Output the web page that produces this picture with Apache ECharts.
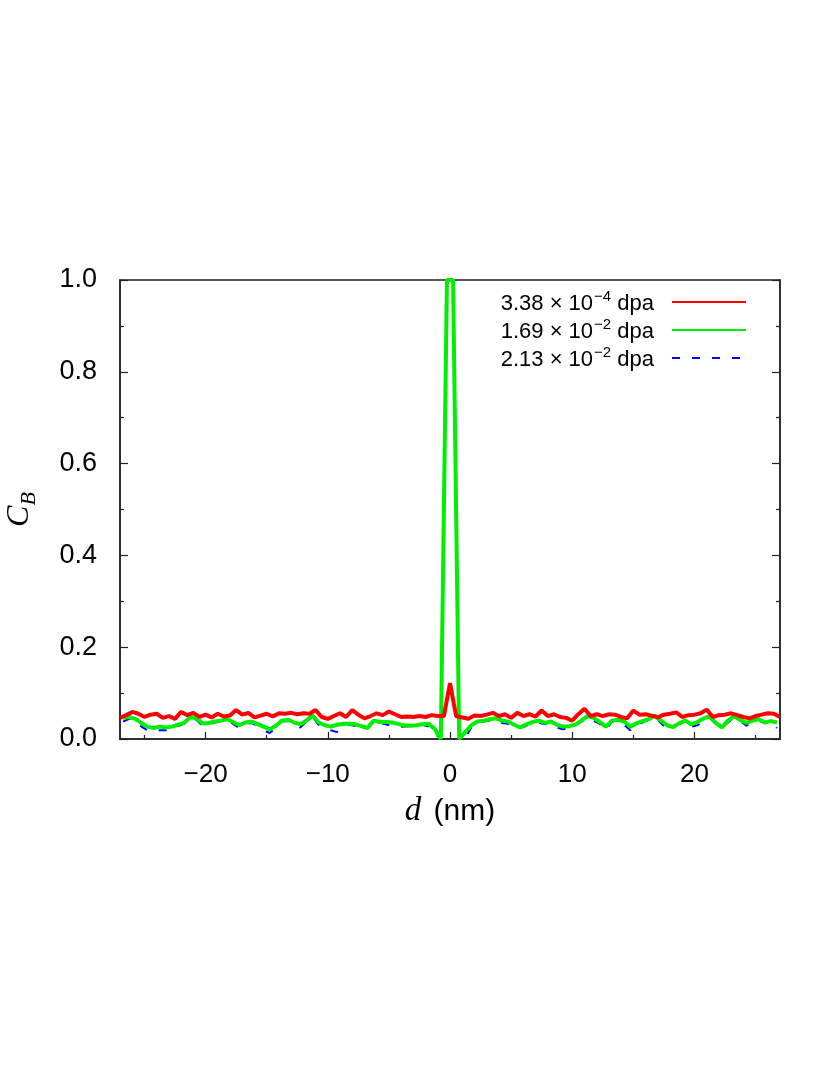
<!DOCTYPE html>
<html>
<head>
<meta charset="utf-8">
<script src="https://cdn.jsdelivr.net/npm/echarts@6/dist/echarts.min.js"></script>
<style>
  html, body { margin: 0; padding: 0; background: #fff; }
  #chart { width: 830px; height: 1075px; }
</style>
</head>
<body>
<div id="chart"></div>
<script>
// bin positions (nm)
const posRed = [-27,-26.5,-26,-25.5,-25,-24.5,-24,-23.5,-23,-22.5,-22,-21.5,-21,-20.5,-20,-19.5,-19,-18.5,-18,-17.5,
  -17,-16.5,-16,-15.5,-15,-14.5,-14,-13.5,-13,-12.5,-12,-11.5,-11,-10.5,-10,-9.5,-9,-8.5,-8,-7.5,
  -7,-6.5,-6,-5.5,-5,-4.5,-4,-3.5,-3,-2.5,-2,-1.5,-1,-0.5,0,0.5,1,1.5,2,2.5,
  3,3.5,4,4.5,5,5.5,6,6.5,7,7.5,8,8.5,9,9.5,10,10.5,11,11.5,12,12.5,
  13,13.5,14,14.5,15,15.5,16,16.5,17,17.5,18,18.5,19,19.5,20,20.5,21,21.5,22,22.5,
  23,23.5,24,24.5,25,25.5,26,26.5,27];
const posGB = [-26.75,-26.25,-25.75,-25.25,-24.75,-24.25,-23.75,-23.25,-22.75,-22.25,-21.75,-21.25,-20.75,-20.25,-19.75,-19.25,-18.75,-18.25,-17.75,-17.25,
  -16.75,-16.25,-15.75,-15.25,-14.75,-14.25,-13.75,-13.25,-12.75,-12.25,-11.75,-11.25,-10.75,-10.25,-9.75,-9.25,-8.75,-8.25,-7.75,-7.25,
  -6.75,-6.25,-5.75,-5.25,-4.75,-4.25,-3.75,-3.25,-2.75,-2.25,-1.75,-1.25,-0.75,-0.25,0.25,0.75,1.25,1.75,2.25,2.75,
  3.25,3.75,4.25,4.75,5.25,5.75,6.25,6.75,7.25,7.75,8.25,8.75,9.25,9.75,10.25,10.75,11.25,11.75,12.25,12.75,
  13.25,13.75,14.25,14.75,15.25,15.75,16.25,16.75,17.25,17.75,18.25,18.75,19.25,19.75,20.25,20.75,21.25,21.75,22.25,22.75,
  23.25,23.75,24.25,24.75,25.25,25.75,26.25,26.75];

// C_B values
const cbLow = [0.046,0.052,0.059,0.055,0.048,0.053,0.055,0.046,0.050,0.044,0.059,0.052,0.057,0.048,0.053,0.047,0.055,0.049,0.051,0.063,
  0.053,0.057,0.047,0.051,0.055,0.049,0.056,0.055,0.057,0.054,0.056,0.055,0.063,0.048,0.044,0.050,0.056,0.048,0.063,0.053,
  0.045,0.050,0.056,0.052,0.060,0.054,0.048,0.049,0.048,0.050,0.048,0.052,0.050,0.050,0.122,0.050,0.047,0.044,0.051,0.050,
  0.053,0.057,0.050,0.054,0.046,0.057,0.050,0.054,0.049,0.062,0.050,0.054,0.048,0.046,0.040,0.054,0.066,0.050,0.054,0.050,
  0.054,0.053,0.048,0.045,0.062,0.053,0.054,0.051,0.047,0.053,0.055,0.058,0.048,0.052,0.053,0.056,0.064,0.048,0.052,0.053,
  0.056,0.052,0.048,0.045,0.050,0.053,0.056,0.055,0.048];
const cbMid = [0.046,0.048,0.044,0.035,0.027,0.024,0.027,0.025,0.027,0.031,0.035,0.048,0.045,0.034,0.035,0.038,0.040,0.043,0.037,0.030,
  0.036,0.038,0.033,0.027,0.021,0.029,0.040,0.042,0.036,0.032,0.040,0.051,0.036,0.030,0.027,0.031,0.033,0.033,0.032,0.028,
  0.024,0.040,0.037,0.037,0.036,0.033,0.030,0.029,0.030,0.032,0.033,0.022,0.0,1.0,1.0,0.0,0.015,0.030,0.038,0.040,
  0.043,0.045,0.040,0.038,0.031,0.025,0.032,0.037,0.040,0.035,0.038,0.031,0.027,0.028,0.031,0.040,0.050,0.046,0.037,0.027,
  0.040,0.042,0.038,0.027,0.034,0.039,0.043,0.051,0.040,0.030,0.026,0.034,0.040,0.032,0.037,0.045,0.049,0.035,0.025,0.040,
  0.050,0.041,0.035,0.040,0.043,0.036,0.039,0.036];
const cbHigh = [0.038,0.044,0.040,0.027,0.019,0.017,0.019,0.019,0.023,0.028,0.033,0.045,0.042,0.028,0.031,0.036,0.038,0.040,0.033,0.024,
  0.034,0.035,0.028,0.019,0.013,0.024,0.038,0.039,0.032,0.025,0.038,0.048,0.031,0.024,0.019,0.015,0.027,0.031,0.028,0.021,
  0.024,0.042,0.035,0.032,0.028,0.026,0.027,0.028,0.029,0.031,0.027,0.012,0.0,1.0,1.0,0.0,0.003,0.025,0.037,0.038,
  0.040,0.041,0.035,0.033,0.027,0.024,0.029,0.034,0.036,0.032,0.034,0.025,0.021,0.024,0.031,0.038,0.046,0.040,0.033,0.019,
  0.038,0.038,0.031,0.019,0.029,0.036,0.042,0.048,0.035,0.022,0.025,0.033,0.036,0.027,0.030,0.041,0.046,0.033,0.025,0.036,
  0.046,0.039,0.029,0.038,0.040,0.035,0.038,0.024];

const xMajor = [-20, -10, 0, 10, 20];
const xMinor = [-25, -15, -5, 5, 15, 25];

const seriesNames = ['3.38e-4', '1.69e-2', '2.13e-2'];
const legendRich = {
  '3.38e-4': '{t|3.38 × 10}{s|−4}{t| dpa}',
  '1.69e-2': '{t|1.69 × 10}{s|−2}{t| dpa}',
  '2.13e-2': '{t|2.13 × 10}{s|−2}{t| dpa}'
};

function zip(xs, ys) {
  return xs.map((x, i) => [x, ys[i]]);
}

const sans = 'Liberation Sans, Arial, Helvetica, sans-serif';
const serif = 'Liberation Serif, Times New Roman, serif';

const chart = echarts.init(document.getElementById('chart'));

const yCommon = {
  type: 'value',
  min: 0,
  max: 1,
  interval: 0.2,
  splitLine: { show: false },
  axisLine: { show: true, onZero: false, lineStyle: { color: '#222', width: 1.5 } },
  axisTick: { show: true, inside: true, length: 8, lineStyle: { color: '#222', width: 1.2 } },
  minorTick: { show: true, splitNumber: 2, length: 4, lineStyle: { color: '#222', width: 1.2 } },
  minorSplitLine: { show: false }
};

const option = {
  animation: false,
  backgroundColor: '#fff',
  grid: {
    left: 120, right: 50, top: 280, bottom: 336,
    outerBoundsMode: 'none',
    containLabel: false,
    show: true, borderColor: '#222', borderWidth: 1.5, backgroundColor: 'transparent'
  },
  legend: {
    orient: 'vertical',
    right: 78,
    top: 284,
    align: 'right',
    itemWidth: 74,
    itemHeight: 2,
    itemGap: 2,
    data: seriesNames,
    formatter: name => legendRich[name],
    itemStyle: { opacity: 0 },
    textStyle: {
      color: '#000',
      fontFamily: sans,
      padding: [0, 13, 0, 0],
      rich: {
        t: { fontSize: 22, fontFamily: sans, color: '#000', lineHeight: 26, verticalAlign: 'bottom' },
        s: { fontSize: 15, fontFamily: sans, color: '#000', lineHeight: 26, verticalAlign: 'top', padding: [0, 0, 0, 1] }
      }
    }
  },
  xAxis: [
    {
      type: 'value',
      min: -27,
      max: 27,
      position: 'bottom',
      splitLine: { show: false },
      axisLine: { show: true, onZero: false, lineStyle: { color: '#222', width: 1.5 } },
      axisTick: { show: true, inside: true, length: 7, customValues: xMajor, lineStyle: { color: '#222', width: 1.2 } },
      axisLabel: {
        customValues: xMajor,
        margin: 23,
        fontSize: 26,
        fontFamily: sans,
        color: '#000',
        formatter: v => String(v).replace('-', '−')
      },
      name: '{i|d}{n| (nm)}',
      nameLocation: 'middle',
      nameGap: 56,
      nameTextStyle: {
        rich: {
          i: { fontFamily: serif, fontStyle: 'italic', fontSize: 33, color: '#000', padding: [0, 4, 0, 0] },
          n: { fontFamily: sans, fontSize: 30, color: '#000' }
        }
      }
    },
    {
      type: 'value',
      min: -27,
      max: 27,
      position: 'bottom',
      splitLine: { show: false },
      axisLine: { show: false, onZero: false },
      axisTick: { show: true, inside: true, length: 4, customValues: xMinor, lineStyle: { color: '#222', width: 1.2 } },
      axisLabel: { show: false }
    }
  ],
  yAxis: [
    Object.assign({}, yCommon, {
      position: 'left',
      axisLabel: {
        margin: 23,
        fontSize: 27,
        fontFamily: sans,
        color: '#000',
        formatter: v => v.toFixed(1)
      },
      name: '{c|C}{b|B}',
      nameLocation: 'middle',
      nameRotate: 90,
      nameGap: 80,
      nameTextStyle: {
        rich: {
          c: { fontFamily: serif, fontStyle: 'italic', fontSize: 32, color: '#000', lineHeight: 36, verticalAlign: 'top' },
          b: { fontFamily: serif, fontStyle: 'italic', fontSize: 22, color: '#000', lineHeight: 36, verticalAlign: 'bottom' }
        }
      }
    }),
    Object.assign({}, yCommon, {
      position: 'right',
      axisLabel: { show: false }
    })
  ],
  series: [
    {
      name: seriesNames[2],
      type: 'line',
      data: zip(posGB, cbHigh),
      showSymbol: false,
      symbol: 'none',
      z: 2,
      lineStyle: { color: '#0000ff', width: 2, type: [8, 12] },
      itemStyle: { color: '#0000ff' }
    },
    {
      name: seriesNames[1],
      type: 'line',
      data: zip(posGB, cbMid),
      showSymbol: false,
      symbol: 'none',
      z: 3,
      lineStyle: { color: '#00ee00', width: 4 },
      itemStyle: { color: '#00ee00' }
    },
    {
      name: seriesNames[0],
      type: 'line',
      data: zip(posRed, cbLow),
      showSymbol: false,
      symbol: 'none',
      z: 4,
      lineStyle: { color: '#ff0000', width: 4 },
      itemStyle: { color: '#ff0000' }
    }
  ]
};

chart.setOption(option);
</script>
</body>
</html>
